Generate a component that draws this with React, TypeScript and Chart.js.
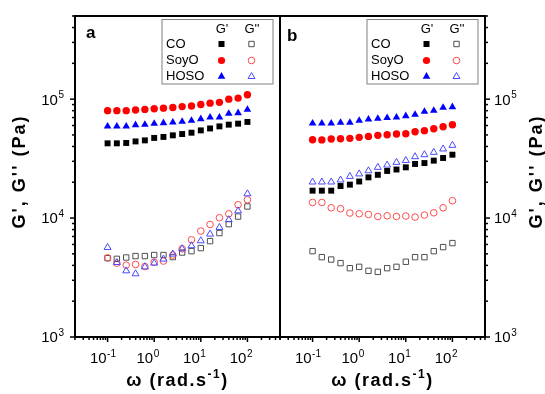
import React, { useEffect, useRef } from 'react';
import { Chart, registerables } from 'chart.js';

Chart.register(...registerables);

// angular frequency (rad/s)
const omega = [0.1, 0.158, 0.251, 0.398, 0.631, 1, 1.58, 2.51, 3.98, 6.31, 10, 15.8, 25.1, 39.8, 63.1, 100];

// panel a : G' (storage) and G'' (loss), Pa
const aCOStorage = [42500, 42500, 42800, 44100, 45000, 47200, 48100, 49600, 50900, 52200, 54600, 56700, 59000, 61000, 62200, 64300];
const aSoyOStorage = [80000, 80000, 80000, 81000, 82000, 83000, 84000, 85000, 86500, 87500, 90000, 92500, 94000, 100000, 102000, 109000];
const aHOSOStorage = [59000, 59000, 59000, 60600, 61000, 62200, 63000, 63800, 64700, 65900, 68100, 70300, 70300, 75500, 76500, 81600];
const aCOLoss = [4600, 4540, 4660, 4790, 4790, 4890, 4890, 4700, 5130, 5270, 5590, 6400, 7480, 8890, 10300, 12520];
const aSoyOLoss = [4630, 4180, 4020, 4070, 3910, 4260, 4350, 4890, 5520, 6570, 7780, 8830, 10060, 10870, 12940, 14260];
const aHOSOLoss = [5660, 4230, 3600, 3400, 3890, 4180, 4520, 4980, 5520, 5850, 6440, 7330, 8340, 9680, 11500, 16000];

// panel b
const bCOStorage = [17000, 17000, 17000, 18600, 19100, 20300, 22000, 23100, 24900, 25600, 26700, 28500, 29000, 30400, 32000, 34100];
const bSoyOStorage = [45600, 45400, 46200, 46500, 46800, 47700, 48600, 49600, 50200, 50900, 51200, 53200, 54300, 56400, 58600, 60900];
const bHOSOStorage = [62500, 62500, 62500, 63400, 63400, 65900, 67600, 68500, 69500, 70300, 72200, 74100, 78500, 80000, 84800, 85900];
const bCOLoss = [5270, 4690, 4480, 4180, 3790, 3890, 3600, 3530, 3790, 3890, 4290, 4690, 4690, 5270, 5700, 6160];
const bSoyOLoss = [13530, 13530, 12210, 11980, 11020, 10870, 10720, 10310, 10450, 10310, 10400, 10190, 10600, 11080, 12210, 13990];
const bHOSOLoss = [20100, 20100, 20100, 20900, 22400, 23500, 25000, 26700, 27900, 29400, 30500, 32800, 34100, 35700, 38100, 40900];

const oils = ['CO', 'SoyO', 'HOSO'];
const panelLetters = ['a', 'b'];
const xTickExps = [-1, 0, 1, 2];
const yTickExps = [3, 4, 5];
const xMin = 0.02;
const xMax = 500;
const yMin = 1000;
const yMax = 500000;

const FONT = '"Liberation Sans", Arial, Helvetica, sans-serif';
const fillColors = ['#000000', '#ff0000', '#0000ff'];
const openColors = ['#505050', '#ff4a4a', '#4a4aff'];
const shapes = ['rect', 'circle', 'triangle'];
const radii = [4.2, 3.7, 4.4];

function ds(label: string, ys: number[], panel: number, oil: number, filled: boolean) {
  return {
    label,
    data: omega.map((x, i) => ({ x, y: ys[i] })),
    xAxisID: panel === 0 ? 'xa' : 'xb',
    yAxisID: panel === 0 ? 'y' : 'y2',
    showLine: false,
    order: 2 - oil,
    pointStyle: shapes[oil],
    pointRadius: filled ? radii[oil] : radii[oil] - 0.4,
    pointHoverRadius: filled ? radii[oil] : radii[oil] - 0.4,
    pointBackgroundColor: filled ? fillColors[oil] : 'rgba(0,0,0,0)',
    pointBorderColor: filled ? fillColors[oil] : openColors[oil],
    pointBorderWidth: filled ? 0 : 1,
  };
}

function drawMarker(ctx: CanvasRenderingContext2D, oil: number, filled: boolean, x: number, y: number) {
  ctx.beginPath();
  const shape = shapes[oil];
  if (shape === 'rect') {
    const s = filled ? 3 : 2.7;
    ctx.rect(x - s, y - s, 2 * s, 2 * s);
  } else if (shape === 'circle') {
    ctx.arc(x, y, filled ? 3.6 : 3.3, 0, Math.PI * 2);
  } else {
    const r = filled ? 4.4 : 4.0;
    ctx.moveTo(x, y - r);
    ctx.lineTo(x + r * 0.866, y + r / 2);
    ctx.lineTo(x - r * 0.866, y + r / 2);
    ctx.closePath();
  }
  if (filled) {
    ctx.fillStyle = fillColors[oil];
    ctx.fill();
  } else {
    ctx.strokeStyle = openColors[oil];
    ctx.lineWidth = 1;
    ctx.stroke();
  }
}

function drawPow(ctx: CanvasRenderingContext2D, x: number, yc: number, exp: string, mode: string, size: number) {
  const esize = Math.round(size * 0.68);
  ctx.font = `${size}px ${FONT}`;
  const wb = ctx.measureText('10').width;
  ctx.font = `${esize}px ${FONT}`;
  const we = ctx.measureText(exp).width;
  let x0 = x;
  if (mode === 'right') x0 = x - we - wb - 0.5;
  else if (mode === 'tick') x0 = x - wb - 1;
  const cap = size * 0.716;
  const base = yc + cap / 2;
  ctx.textAlign = 'left';
  ctx.textBaseline = 'alphabetic';
  ctx.font = `${size}px ${FONT}`;
  ctx.fillText('10', x0, base);
  ctx.font = `${esize}px ${FONT}`;
  ctx.fillText(exp, x0 + wb + 0.5, base - cap * 0.62);
}

const framePlugin = {
  id: 'frame',
  afterDraw(chart: any) {
    const ctx: CanvasRenderingContext2D = chart.ctx;
    const { left, right, top, bottom } = chart.chartArea;
    const xs = [chart.scales.xa, chart.scales.xb];
    const yl = chart.scales.y;
    const yr = chart.scales.y2;
    ctx.save();
    ctx.fillStyle = '#000';
    ctx.strokeStyle = '#000';

    // ticks
    ctx.lineWidth = 1.5;
    for (const sx of xs) {
      for (let e = -2; e <= 2; e++) {
        for (let m = 1; m <= 9; m++) {
          const v = m * Math.pow(10, e);
          if (v < xMin * 0.999 || v > xMax * 1.001) continue;
          const px = sx.getPixelForValue(v);
          const len = m === 1 ? 5 : 3;
          ctx.beginPath();
          ctx.moveTo(px, bottom);
          ctx.lineTo(px, bottom + len);
          ctx.stroke();
        }
      }
    }
    for (let e = 3; e <= 5; e++) {
      for (let m = 1; m <= 9; m++) {
        const v = m * Math.pow(10, e);
        if (v > yMax * 1.001) continue;
        const len = m === 1 ? 5 : 3;
        const pl = yl.getPixelForValue(v);
        ctx.beginPath();
        ctx.moveTo(left, pl);
        ctx.lineTo(left - len, pl);
        ctx.stroke();
        const pr = yr.getPixelForValue(v);
        ctx.beginPath();
        ctx.moveTo(right, pr);
        ctx.lineTo(right + len, pr);
        ctx.stroke();
      }
    }

    // frame
    ctx.lineWidth = 2;
    ctx.strokeRect(left, top, right - left, bottom - top);
    ctx.beginPath();
    ctx.moveTo(xs[0].right, top);
    ctx.lineTo(xs[0].right, bottom);
    ctx.stroke();

    // tick labels
    ctx.fillStyle = '#000';
    for (const sx of xs) {
      for (const e of xTickExps) {
        const px = sx.getPixelForValue(Math.pow(10, e));
        drawPow(ctx, px, 358, String(e), 'tick', 15);
      }
    }
    for (const e of yTickExps) {
      drawPow(ctx, 64, yl.getPixelForValue(Math.pow(10, e)), String(e), 'right', 15);
      drawPow(ctx, 494, yr.getPixelForValue(Math.pow(10, e)), String(e), 'left', 15);
    }

    // x titles
    for (const sx of xs) {
      const cx = (sx.left + sx.right) / 2;
      const big = `bold 18px ${FONT}`;
      const small = `bold 12px ${FONT}`;
      (ctx as any).letterSpacing = '1.5px';
      ctx.font = big;
      const w1 = ctx.measureText('\u03c9 (rad.s').width;
      const w3 = ctx.measureText(')').width;
      ctx.font = small;
      const w2 = ctx.measureText('-1').width;
      const x0 = cx - (w1 + w2 + w3) / 2;
      ctx.textAlign = 'left';
      ctx.textBaseline = 'alphabetic';
      ctx.font = big;
      ctx.fillText('\u03c9 (rad.s', x0, 386);
      ctx.font = small;
      ctx.fillText('-1', x0 + w1, 378);
      ctx.font = big;
      ctx.fillText(')', x0 + w1 + w2, 386);
      (ctx as any).letterSpacing = '0px';
    }

    // y titles
    const yTitle = "G', G'' (Pa)";
    for (const cxTitle of [20, 537]) {
      ctx.save();
      ctx.translate(cxTitle, (top + bottom) / 2 - 5);
      ctx.rotate(-Math.PI / 2);
      ctx.font = `bold 18px ${FONT}`;
      (ctx as any).letterSpacing = '2px';
      ctx.textAlign = 'center';
      ctx.textBaseline = 'middle';
      ctx.fillText(yTitle, 0, 0);
      ctx.restore();
    }

    // panel letters
    ctx.font = `bold 17px ${FONT}`;
    ctx.textAlign = 'left';
    ctx.textBaseline = 'alphabetic';
    ctx.fillText(panelLetters[0], xs[0].left + 11, 38);
    ctx.fillText(panelLetters[1], xs[1].left + 7, 41);

    // legends
    xs.forEach((sx: any) => {
      const bw = 111;
      const L = sx.right - 7 - bw;
      const T = 19.5;
      const H = 64.5;
      ctx.fillStyle = '#fff';
      ctx.fillRect(L, T, bw, H);
      ctx.strokeStyle = '#808080';
      ctx.lineWidth = 1;
      ctx.strokeRect(L, T, bw, H);
      ctx.fillStyle = '#000';
      ctx.font = `13px ${FONT}`;
      ctx.textBaseline = 'middle';
      ctx.textAlign = 'center';
      ctx.fillText("G'", L + 60, 29.5);
      ctx.fillText("G''", L + 90, 29.5);
      ctx.textAlign = 'left';
      const rows = [44, 60.5, 76.5];
      oils.forEach((name, i) => {
        ctx.fillStyle = '#000';
        ctx.fillText(name, L + 4, rows[i]);
        drawMarker(ctx, i, true, L + 59.5, rows[i]);
        drawMarker(ctx, i, false, L + 89.5, rows[i]);
      });
    });

    ctx.restore();
  },
};

export default function App() {
  const ref = useRef<HTMLCanvasElement>(null);
  useEffect(() => {
    const hidden = { display: false };
    const xScale = (afterFitH: number) => ({
      type: 'logarithmic',
      position: 'bottom',
      stack: 'xstack',
      stackWeight: 1,
      min: xMin,
      max: xMax,
      grid: hidden,
      border: hidden,
      ticks: { display: false },
      afterFit: (s: any) => {
        s.height = afterFitH;
      },
    });
    const yScale = (pos: string, w: number) => ({
      type: 'logarithmic',
      position: pos,
      min: yMin,
      max: yMax,
      grid: hidden,
      border: hidden,
      ticks: { display: false },
      afterFit: (s: any) => {
        s.width = w;
      },
    });
    const chart = new Chart(ref.current as HTMLCanvasElement, {
      type: 'scatter',
      data: {
        datasets: [
          ds('CO G\'', aCOStorage, 0, 0, true),
          ds('SoyO G\'', aSoyOStorage, 0, 1, true),
          ds('HOSO G\'', aHOSOStorage, 0, 2, true),
          ds('CO G\'\'', aCOLoss, 0, 0, false),
          ds('SoyO G\'\'', aSoyOLoss, 0, 1, false),
          ds('HOSO G\'\'', aHOSOLoss, 0, 2, false),
          ds('CO G\'', bCOStorage, 1, 0, true),
          ds('SoyO G\'', bSoyOStorage, 1, 1, true),
          ds('HOSO G\'', bHOSOStorage, 1, 2, true),
          ds('CO G\'\'', bCOLoss, 1, 0, false),
          ds('SoyO G\'\'', bSoyOLoss, 1, 1, false),
          ds('HOSO G\'\'', bHOSOLoss, 1, 2, false),
        ] as any,
      },
      options: {
        responsive: false,
        animation: false,
        devicePixelRatio: 1,
        layout: { padding: { top: 16, left: 0, right: 0, bottom: 0 } },
        plugins: { legend: { display: false }, tooltip: { enabled: false } },
        scales: {
          xa: xScale(57),
          xb: xScale(57),
          y: yScale('left', 75),
          y2: yScale('right', 60),
        } as any,
      },
      plugins: [framePlugin],
    });
    return () => chart.destroy();
  }, []);
  return (
    <div style={{ position: 'fixed', left: 0, top: 0, width: 545, height: 394, background: '#fff' }}>
      <canvas ref={ref} width={545} height={394} style={{ display: 'block', width: 545, height: 394 }} />
    </div>
  );
}
